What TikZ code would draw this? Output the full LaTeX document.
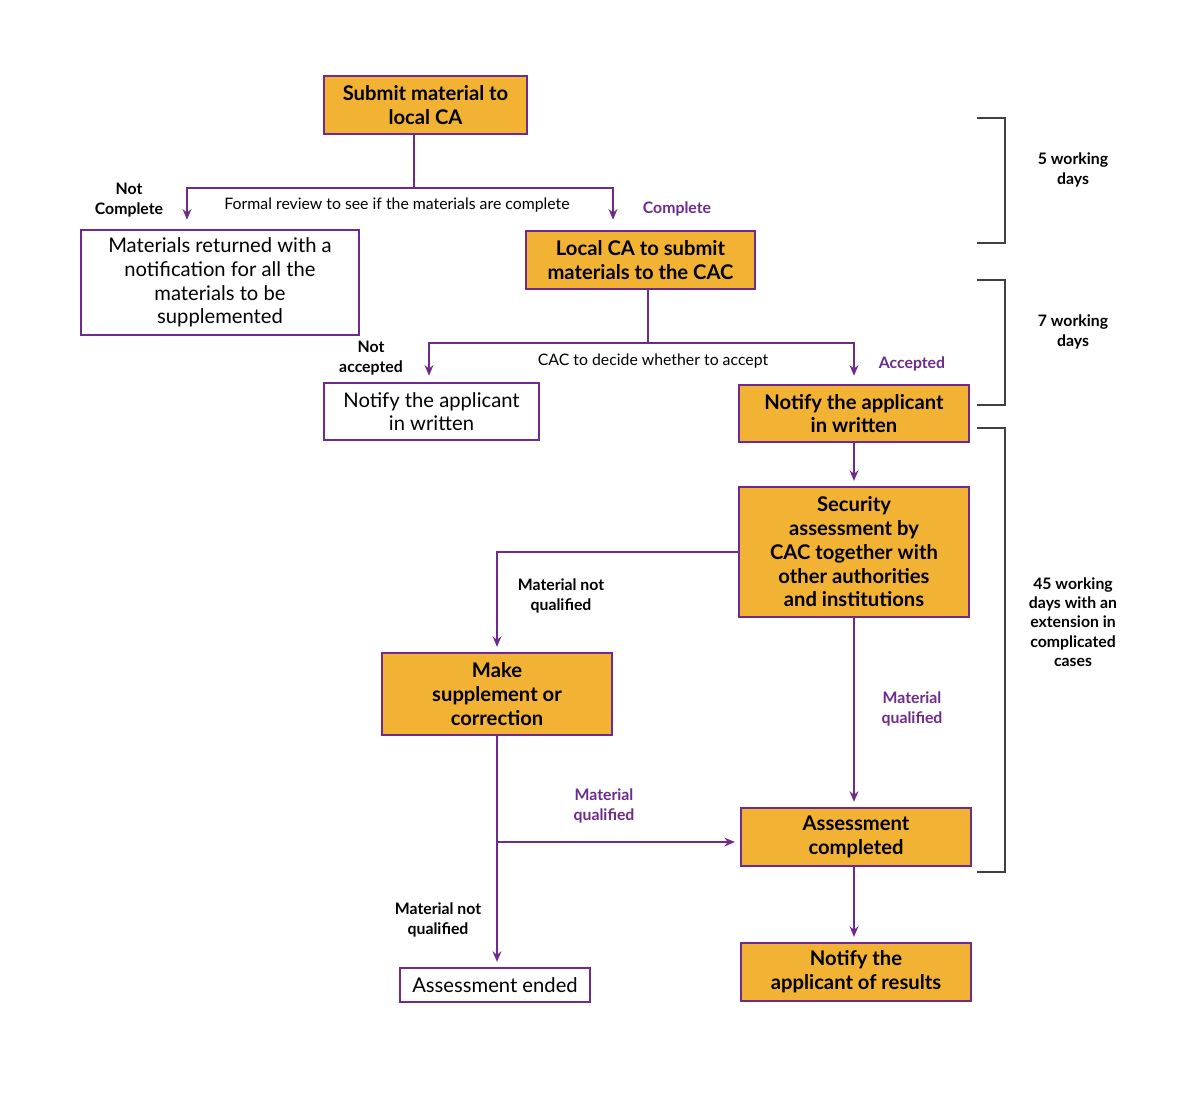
\documentclass[tikz,border=0pt]{standalone}
\usepackage{fontspec}
\setmainfont{Lato}
\usetikzlibrary{arrows.meta}
\definecolor{cacorange}{HTML}{F2B233}
\definecolor{cacpurple}{HTML}{6E2A8C}
\begin{document}
\begin{tikzpicture}[x=0.02cm,y=-0.02cm,
  stage/.style={draw=cacpurple,line width=1pt,fill=cacorange,align=center,font=\fontsize{11.5}{13.5}\selectfont\bfseries,inner sep=1pt},
  plain/.style={draw=cacpurple,line width=1pt,fill=white,align=center,font=\fontsize{11.5}{13.5}\selectfont,inner sep=1pt},
  link/.style={draw=cacpurple,line width=1pt},
  go/.style={link,-{Stealth[length=6pt,width=5pt]},shorten >=3pt},
  lab/.style={align=center,font=\fontsize{9}{11}\selectfont\bfseries},
  plab/.style={lab,text=cacpurple},
  brace/.style={draw=black!75,line width=0.8pt}]
\useasboundingbox (0,0) rectangle (1200,1100);
% boxes
\node[stage,minimum width=4.06cm,minimum height=1.16cm] (submit) at (425.5,105) {Submit material to\\local CA};
\node[plain,minimum width=5.56cm,minimum height=2.1cm] (returned) at (220,282.5) {Materials returned with a\\notification for all the\\materials to be\\supplemented};
\node[stage,minimum width=4.58cm,minimum height=1.16cm] (localca) at (640.5,260) {Local CA to submit\\materials to the CAC};
\node[plain,minimum width=4.3cm,minimum height=1.14cm] (notifyno) at (431.5,411.5) {Notify the applicant\\in written};
\node[stage,minimum width=4.6cm,minimum height=1.14cm] (notifyyes) at (854,413.5) {Notify the applicant\\in written};
\node[stage,minimum width=4.6cm,minimum height=2.6cm] (security) at (854,552) {Security\\assessment by\\CAC together with\\other authorities\\and institutions};
\node[stage,minimum width=4.6cm,minimum height=1.64cm] (supplement) at (497,694) {Make\\supplement or\\correction};
\node[stage,minimum width=4.6cm,minimum height=1.16cm] (completed) at (856,837) {Assessment\\completed};
\node[plain,minimum width=3.8cm,minimum height=0.68cm] (ended) at (495,985) {Assessment ended};
\node[stage,minimum width=4.6cm,minimum height=1.16cm] (results) at (856,972) {Notify the\\applicant of results};
% review split
\coordinate (r0) at (414,188);
\coordinate (rl) at (187,188);
\coordinate (rr) at (613,188);
\coordinate (rle) at (187,225);
\coordinate (rre) at (613,225);
\draw[link] (submit.south -| r0) -- (r0);
\draw[go] (r0) -- (rr) -- (rre);
\draw[go] (r0) -- (rl) -- (rle);
\node[font=\fontsize{9}{11}\selectfont] (review) at (397,205) {Formal review to see if the materials are complete};
\node[lab] (notcomplete) at (129,200) {Not\\Complete};
\node[plab] (complete) at (677,209) {Complete};
% decide split
\coordinate (d0) at (648,343);
\coordinate (dl) at (429,343);
\coordinate (dr) at (854,343);
\coordinate (dle) at (429,381);
\coordinate (dre) at (854,381);
\draw[link] (localca.south -| d0) -- (d0);
\draw[go] (d0) -- (dl) -- (dle);
\draw[go] (d0) -- (dr) -- (dre);
\node[font=\fontsize{9}{11}\selectfont] (decide) at (653,361) {CAC to decide whether to accept};
\node[lab] (notaccepted) at (371,358) {Not\\accepted};
\node[plab] (accepted) at (912,364) {Accepted};
% assessment
\draw[go] (notifyyes) -- (security);
\coordinate (s1) at (497,552);
\draw[go] (security.west) -- (s1) -- (supplement.north);
\node[lab] (notq1) at (561,596) {Material not\\qualified};
\draw[go] (security.south) -- (security.south |- completed.north);
\node[plab] (q1) at (912,709) {Material\\qualified};
\coordinate (s2) at (497,842);
\draw[go] (supplement.south) -- (ended.north -| s2);
\draw[go] (s2) -- (s2 -| completed.west);
\node[plab] (q2) at (604,806) {Material\\qualified};
\node[lab] (notq2) at (438,920) {Material not\\qualified};
\draw[go] (completed.south -| security.south) -- (results.north -| security.south);
% periods
\draw[brace] (977,118) -- (1005,118) -- (1005,243) -- (977,243);
\draw[brace] (977,280) -- (1005,280) -- (1005,405) -- (977,405);
\draw[brace] (977,428) -- (1005,428) -- (1005,872) -- (977,872);
\node[lab] (p5) at (1073,170) {5 working\\days};
\node[lab] (p7) at (1073,332) {7 working\\days};
\node[lab] (p45) at (1073,622) {45 working\\days with an\\extension in\\complicated\\cases};
\end{tikzpicture}
\end{document}
